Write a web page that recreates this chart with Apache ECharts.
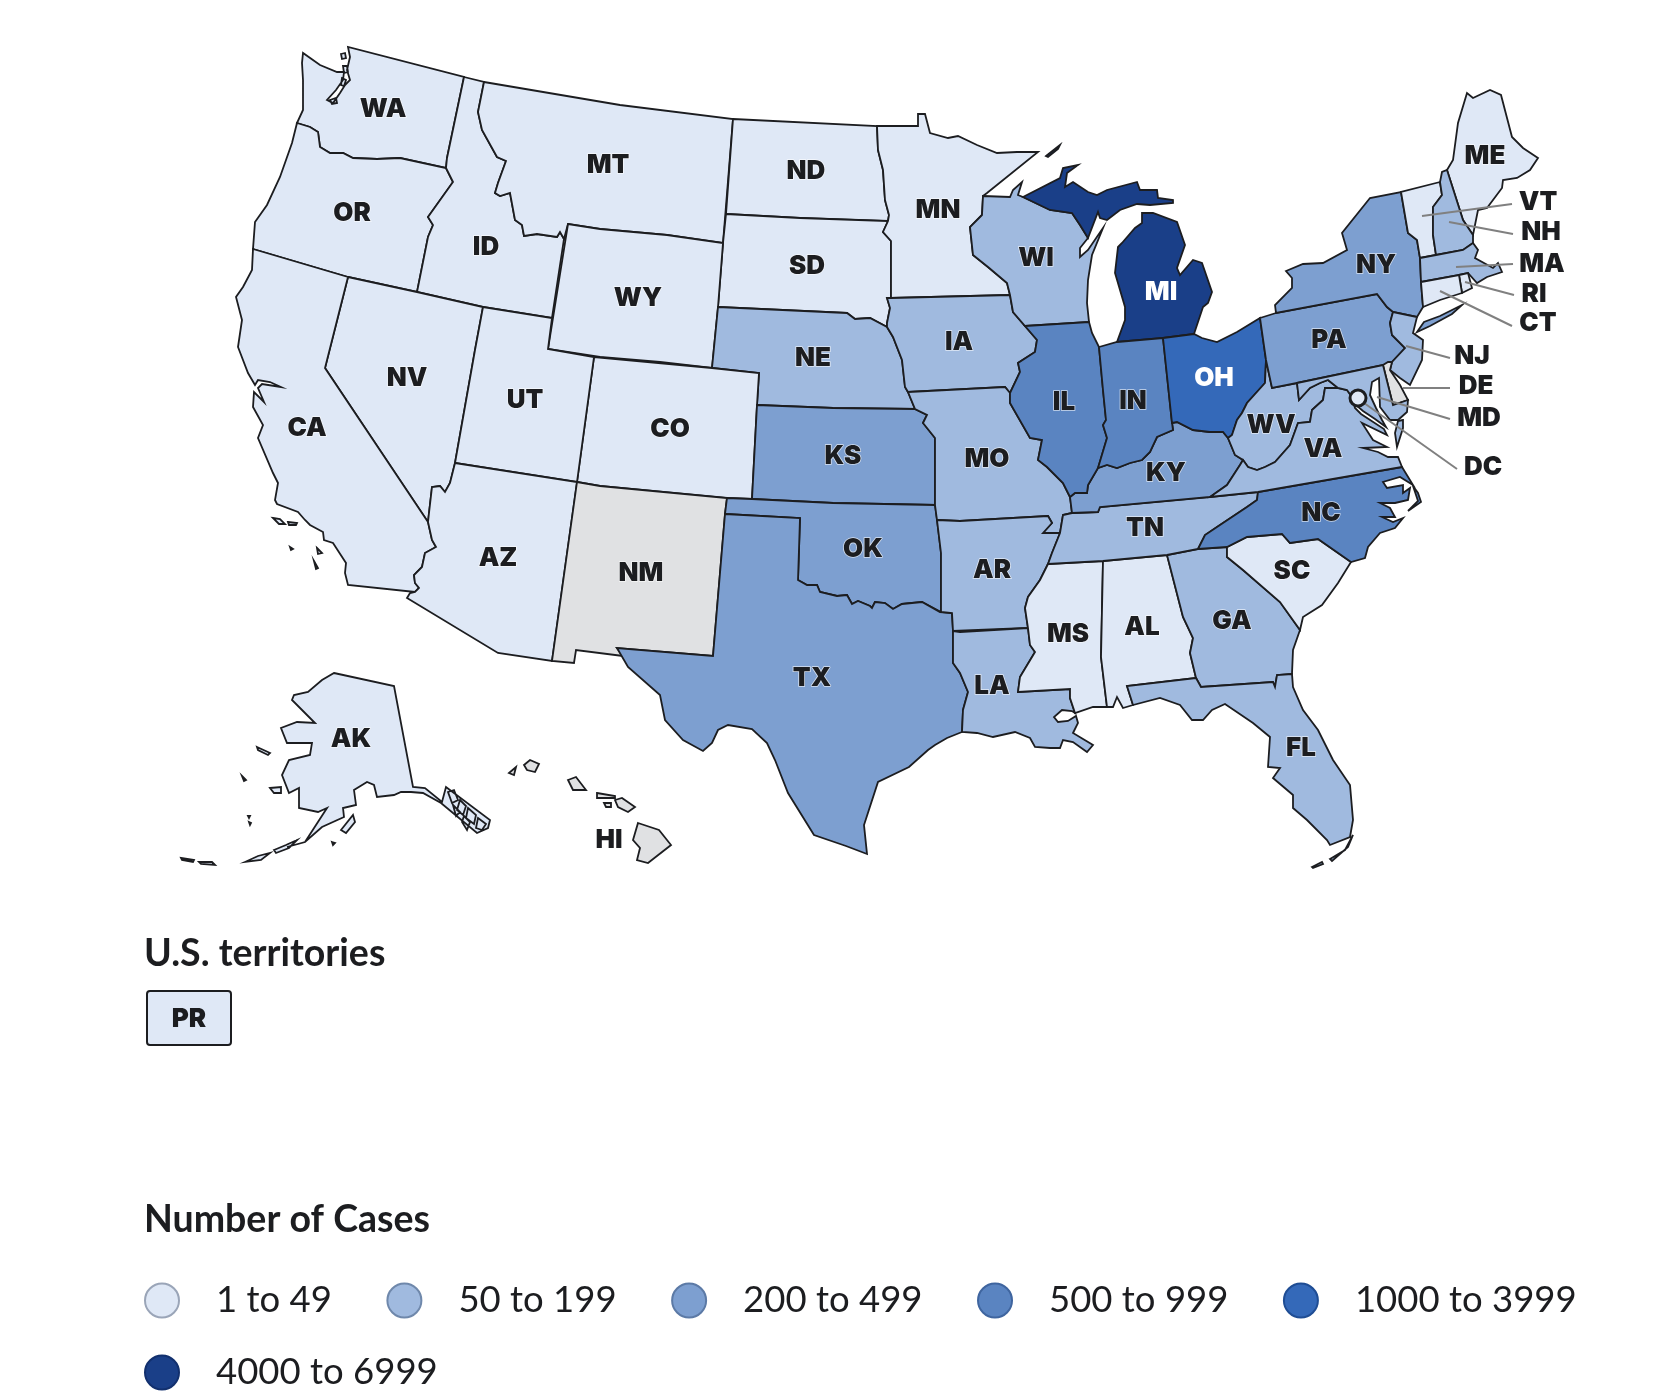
<!DOCTYPE html>
<html>
<head>
<meta charset="utf-8">
<style>html,body{margin:0;background:#fff}#chart{width:1658px;height:1400px}</style>
<script src="https://cdn.jsdelivr.net/npm/echarts@6/dist/echarts.min.js"></script>
</head>
<body>
<div id="chart"></div>
<script>
// case bins and the states that fall in each one
const binNames = ["1 to 49", "50 to 199", "200 to 499", "500 to 999", "1000 to 3999", "4000 to 6999"];
const binLow = [1, 50, 200, 500, 1000, 4000];
const binHigh = [49, 199, 499, 999, 3999, 6999];
const binColors = ["#dfe8f6", "#a0badf", "#7d9fd0", "#5a84c1", "#3469b9", "#1a3f88"];
const binBorders = ["#9aa5b8", "#6f88ab", "#5c7aa6", "#3f659f", "#1f4d94", "#12306e"];
const bin1 = ["WA", "OR", "CA", "ID", "MT", "NV", "UT", "AZ", "WY", "CO", "ND", "SD", "MN", "MS", "AL", "SC", "AK", "ME", "VT", "RI", "CT", "DC"];
const bin2 = ["NE", "IA", "WI", "MO", "AR", "LA", "TN", "GA", "FL", "WV", "VA", "MD", "NJ", "NH", "MA"];
const bin3 = ["KS", "OK", "TX", "KY", "NY", "PA"];
const bin4 = ["IL", "IN", "NC"];
const bin5 = ["OH"];
const bin6 = ["MI"];
const noData = ["NM", "HI", "DE"];
const binStates = [bin1, bin2, bin3, bin4, bin5, bin6];

// shared borders
const WA_OR = "297,123 310,127 318,132 320,147 330,153 343,153 353,158 377,159 400,158 446,168";
const OR_ID = "446,168 453,182 428,217 433,225 428,237 417,292";
const ID_MT = "484,82 478,112 482,130 497,157 506,161 498,183 495,193 500,196 510,193 515,220 522,225 524,236 537,234 557,237 560,232 564,239";
const MT_WY = "568,224 600,229 667,235 723,243";
const NV_AZ = "455,463 450,483 445,492 440,486 432,487 429,513 428,522";
const CA_AZ = "428,522 432,540 436,547 425,553 422,567 414,575 415,583 419,588 415,592";
const RED_RIVER = "798,580 807,585 817,585 820,592 837,596 847,595 852,604 858,601 870,606 872,608 875,602 885,603 893,609 902,604 922,602 940,612";
const NE_IA = "887,327 893,337 902,360 905,387 908,392";
const KS_MO = "915,409 927,415 923,423 935,438";
const SD_IA = "887,298 890,308 887,323 887,327";
const ND_MN = "877,126 878,150 883,170 885,200 889,215 888,221";
const SD_MN = "888,221 883,232 891,241 891,298";
const NE_SD = "718,307 847,313 855,319 870,318 887,327";
const MN_WI = "983,196 982,215 970,227 973,255 988,267 1007,283 1010,295";
const IA_WI = "1010,295 1013,312 1025,326";
const IA_IL = "1025,326 1037,340 1035,352 1018,363 1020,372 1010,393";
const MO_IL = "1010,393 1010,403 1030,438 1042,440 1038,460 1047,467 1063,483 1070,497";
const IL_KY = "1098,468 1088,485 1087,493 1075,493 1070,497";
const IL_IN = "1099,347 1103,390 1106,420 1103,425 1107,438 1098,468";
const IN_KY = "1172,423 1173,430 1157,437 1150,452 1142,460 1130,463 1117,468 1107,465 1098,468";
const OH_KY = "1228,438 1223,432 1210,432 1193,430 1177,422 1172,423";
const OH_WV = "1266,360 1265,383 1247,403 1242,413 1237,420 1232,435 1228,438";
const WV_VA = "1243,460 1248,467 1257,470 1265,467 1275,462 1290,445 1298,423 1310,422 1312,410 1323,400 1325,388 1338,388";
const WV_MD = "1297,383 1299,400 1310,388 1320,383 1328,380 1338,388";
const KY_VA = "1243,460 1240,465 1227,485 1210,497";
const TN_KY = "1072,513 1098,512 1100,507 1210,497";
const TN_NC = "1258,492 1257,500 1247,507 1235,515 1220,525 1205,535 1198,549";
const AR_MS = "1048,564 1040,580 1028,597 1025,608 1028,628";
const LA_MS = "1028,628 1030,645 1035,652 1020,677 1018,692 1070,689 1070,698 1075,713";
const AL_GA = "1167,555 1183,617 1193,638 1190,653 1196,678";
const GA_SC = "1227,547 1227,557 1243,570 1280,602 1300,630";
const FL_GA = "1196,678 1201,687 1273,682 1275,687 1277,675 1292,674";
const NC_SC = "1351,562 1318,539 1290,543 1282,534 1247,537 1227,547";
const LA_TX = "953,631 953,663 960,673 968,692 963,710 962,732";
const NH_VT = "1440,182 1442,195 1433,207 1433,235 1436,255";
const NY_VT = "1401,192 1408,233 1417,240 1420,258";
const NY_PA = "1276,313 1377,294 1387,307 1393,312";
const NJ_PA = "1393,312 1390,323 1392,335 1405,348 1392,362";
const rev = s => s.split(" ").reverse().join(" ");

// outline rings per state, first ring of each entry is the main land
const stateShapes = {
  WA: [`303,53 302,63 303,80 303,98 303,110 ${WA_OR} 447,158 464,77 348,47 350,57 347,70 350,80 345,85 340,93 333,103 327,100 336,90 343,80 344,72 337,72 320,65`,
    "341,54 345,53 346,58 342,59", "343,66 347,66 348,72 344,73", "342,78 346,80 344,86 341,85", "330,100 336,98 337,103 332,104"],
  OR: [`${WA_OR} ${OR_ID} 348,277 253,249 255,222 267,205 280,177 292,143`],
  CA: [`253,249 348,277 325,368 428,522 ${CA_AZ.slice(8)} 348,585 345,573 346,563 333,543 324,540 323,532 310,525 305,520 298,512 277,504 275,500 278,483 273,473 258,438 263,425 253,407 254,392 264,402 258,388 262,384 281,387 270,382 258,380 255,385 248,373 238,347 242,320 236,297 243,287 252,270`,
    "273,518 280,519 285,524 279,524", "288,522 297,523 296,525 289,525", "290,547 293,549 291,550", "317,548 322,553 318,554", "314,561 318,568 316,569"],
  ID: [`464,77 484,82 ${ID_MT.slice(7)} 552,318 483,307 ${rev(OR_ID)} 447,158`],
  MT: [`484,82 620,105 733,119 723,243 667,235 600,229 568,224 ${rev(ID_MT).replace(" 484,82", "")}`],
  WY: [`${MT_WY} 718,307 712,368 660,362 600,357 548,349`],
  NV: [`348,277 417,292 483,307 475,350 ${NV_AZ} 325,368`],
  UT: ["483,307 552,318 548,349 594,357 577,482 455,463 475,350"],
  AZ: [`455,463 577,482 552,661 498,653 407,598 410,593 ${rev(CA_AZ)} ${rev(NV_AZ).replace("428,522 ", "")}`],
  CO: ["594,357 712,368 759,373 757,405 752,499 727,498 600,486 577,482"],
  NM: ["577,482 600,486 727,498 725,514 713,656 617,648 623,656 576,650 574,663 552,661"],
  ND: [`733,119 877,126 ${ND_MN.slice(8)} 800,218 726,214`],
  SD: [`726,214 800,218 888,221 ${SD_MN.slice(8)} ${SD_IA} 870,318 855,319 847,313 718,307 723,243`],
  NE: [`${NE_SD} ${NE_IA.slice(8)} 915,409 833,408 757,405 759,373 712,368`],
  KS: [`757,405 833,408 915,409 ${KS_MO.slice(8)} 935,505 833,503 752,499`],
  OK: [`727,498 752,499 833,503 935,505 937,520 941,553 941,612 940,612 ${rev(RED_RIVER).replace("940,612 ", "")} 800,518 725,514`],
  TX: [`725,514 800,518 ${RED_RIVER} 952,613 953,631 953,663 960,673 968,692 963,710 962,732 947,738 935,745 928,750 909,767 878,782 864,825 867,854 846,846 814,835 788,793 775,760 767,743 752,729 728,725 718,730 712,743 703,751 683,740 665,720 660,695 628,667 617,648 713,656`],
  MN: [`877,126 918,126 918,114 925,114 930,133 948,138 958,136 977,145 997,153 1017,152 1038,152 987,193 ${MN_WI} 891,298 ${rev(SD_MN).replace(" 888,221", "")} 888,221 ${rev(ND_MN).replace("888,221 ", "")}`],
  IA: [`887,298 891,298 1010,295 ${IA_WI.slice(9)} ${IA_IL.slice(9)} 1005,387 908,392 ${rev(NE_IA).replace("908,392 ", "")} ${rev(SD_IA).replace("887,327 ", "")}`],
  MO: [`908,392 1005,387 ${MO_IL} 1072,513 1063,515 1060,533 1043,533 1052,523 1048,516 960,521 937,520 935,505 ${rev(KS_MO)}`],
  AR: ["937,520 960,521 1048,516 1052,523 1043,533 1060,533 1052,553 " + AR_MS + " 953,631 952,613 941,612 941,553"],
  LA: [`953,631 960,632 1028,628 ${LA_MS.slice(9)} 1072,711 1062,710 1054,717 1058,722 1068,721 1076,716 1078,723 1073,733 1093,745 1087,752 1073,742 1063,740 1060,748 1050,748 1035,747 1030,738 1015,732 993,737 977,733 962,732 ${rev(LA_TX).replace("962,732 ", "")}`],
  WI: [`983,196 1010,197 1013,190 1022,182 1018,195 1023,197 1050,210 1072,213 1080,225 1088,238 1080,248 1080,257 1088,250 1103,228 1092,255 1088,280 1087,303 1089,322 1025,326 ${rev(IA_WI).replace("1025,326 ", "")} ${rev(MN_WI).replace("1010,295 ", "")}`],
  MI: ["1023,197 1060,178 1063,168 1078,165 1067,173 1065,187 1073,182 1088,192 1097,195 1107,190 1137,182 1140,190 1157,190 1158,198 1173,200 1173,203 1150,205 1137,204 1120,210 1107,220 1100,218 1098,212 1088,238 1080,225 1072,213 1050,210",
    "1142,213 1153,213 1177,222 1185,245 1177,268 1180,275 1193,260 1202,263 1212,292 1208,303 1203,307 1194,334 1163,338 1117,342 1125,320 1125,307 1115,273 1118,247 1122,243 1135,228 1142,223",
    "1046,156 1060,145 1058,149 1048,157"],
  IL: [`1025,326 1089,322 1092,333 ${IL_IN} ${IL_KY.slice(9)} ${rev(MO_IL).replace("1070,497 ", "")} ${rev(IA_IL).replace("1010,393 ", "")}`],
  IN: [`1099,347 1117,342 1163,338 ${IN_KY} ${rev(IL_IN).replace("1098,468 ", "")}`],
  OH: [`1163,338 1194,334 1202,338 1217,342 1237,332 1260,318 ${OH_WV} ${OH_KY.slice(9)}`],
  KY: [`${IN_KY} ${IL_KY.slice(9)} 1072,513 1098,512 1100,507 1210,497 ${rev(KY_VA).replace("1210,497 ", "")} 1235,455 ${OH_KY}`],
  TN: [`1063,515 ${TN_KY} 1258,492 ${TN_NC.slice(9)} 1167,555 1103,561 1048,564 1052,553 1060,533`],
  MS: [`${AR_MS} ${LA_MS.slice(9)} 1093,707 1107,707 1101,657 1103,561`],
  AL: [`1103,561 1167,555 ${AL_GA.slice(9)} 1127,686 1133,705 1123,708 1117,697 1113,707 1107,707 1101,657`],
  GA: [`1167,555 1198,549 ${GA_SC} 1293,650 1292,674 ${rev(FL_GA).replace("1292,674 ", "")} ${rev(AL_GA).replace("1196,678 ", "")}`],
  SC: [`${rev(NC_SC)} 1338,583 1322,605 1303,617 1300,630 1280,602 1243,570 1227,557`],
  NC: [`1258,492 1402,467 1413,485 1400,477 1383,482 1387,488 1403,485 1403,493 1410,488 1408,500 1395,503 1380,503 1390,508 1395,517 1382,517 1393,522 1403,518 1395,528 1380,533 1368,547 1365,558 ${NC_SC} 1198,549 ${rev(TN_NC).replace("1198,549 ", "")}`,
    "1413,486 1418,493 1421,502 1408,511 1418,501"],
  FL: [`${FL_GA} 1293,687 1303,710 1318,730 1333,760 1350,785 1353,820 1350,837 1330,845 1327,840 1307,820 1293,808 1293,795 1273,778 1280,768 1268,767 1270,737 1253,723 1225,704 1212,710 1203,720 1192,720 1180,705 1160,698 1133,705 1127,686`,
    "1312,867 1322,862 1323,864 1313,868", "1330,859 1345,850 1353,835 1348,847 1332,861"],
  WV: [`1266,360 1272,388 ${WV_MD} ${rev(WV_VA).replace("1338,388 ", "")} 1235,455 1228,438 ${rev(OH_WV).replace("1228,438 ", "")}`],
  VA: [`${WV_VA} 1347,390 1352,397 1355,408 1361,414 1384,429 1387,435 1362,423 1373,440 1387,447 1363,448 1378,452 1388,457 1398,457 1402,467 1258,492 1210,497 ${rev(KY_VA).replace("1210,497 ", "").replace(" 1243,460", "")}`,
    "1403,420 1398,421 1395,433 1397,447 1403,428"],
  MD: [`1297,383 1383,365 1393,405 1408,400 1407,412 1398,420 1390,420 1380,407 1379,378 1372,382 1370,395 1376,408 1382,420 1386,427 1375,419 1363,411 1357,406 1352,397 1347,390 ${rev(WV_MD).replace("1297,383", "").trim()}`],
  DC: ["1354,395 1361,395 1361,401 1354,401"],
  DE: ["1383,365 1388,362 1392,362 1390,370 1400,385 1408,400 1393,405"],
  PA: [`1260,318 ${NY_PA} ${NJ_PA.slice(9)} 1383,365 1297,383 1272,388 1266,360`],
  NJ: [`1393,312 1417,317 1413,333 1423,340 1422,360 1410,385 1400,378 1390,370 1392,362 ${rev(NJ_PA).replace("1392,362 ", "")}`],
  NY: [`1276,313 1275,305 1292,288 1292,278 1286,271 1303,264 1323,263 1347,250 1342,233 1370,198 ${NY_VT} 1421,282 1423,307 1417,317 ${rev(NY_PA).replace(" 1276,313", "")}`,
    "1417,332 1424,322 1440,316 1462,305 1452,314 1430,326"],
  VT: [`${NY_VT} 1436,255 ${rev(NH_VT).replace("1436,255 ", "")}`],
  NH: [`${NH_VT} 1463,250 1473,243 1473,235 1463,220 1447,170 1442,172`],
  ME: ["1447,170 1453,160 1458,123 1467,93 1473,98 1490,90 1501,95 1512,137 1523,148 1538,158 1530,170 1517,178 1503,180 1502,188 1487,208 1478,210 1473,235 1463,220"],
  MA: ["1420,258 1436,255 1463,250 1473,243 1478,250 1475,258 1493,268 1498,263 1502,272 1487,277 1477,283 1468,273 1459,275 1421,282"],
  CT: ["1421,282 1459,275 1462,293 1440,300 1423,307"],
  RI: ["1459,275 1468,273 1472,288 1462,293"],
  AK: ["334,673 394,686 413,787 425,788 442,802 446,787 490,820 488,828 477,833 441,803 423,793 411,792 401,792 394,795 377,797 374,785 367,782 354,790 356,805 343,808 344,817 322,827 305,842 287,847 305,842 327,808 318,812 299,808 299,788 289,793 282,775 289,760 310,755 312,743 287,743 281,728 297,722 315,723 305,713 292,700 294,695 308,692 322,680",
    "341,830 353,815 355,822 346,833", "270,788 281,787 281,793 274,793", "257,747 270,753 268,755 258,750",
    "181,858 194,860 193,862 182,860", "199,862 212,862 215,865 201,864", "245,862 258,856 270,853 261,860", "274,850 286,845 297,840 289,848 276,853",
    "242,776 246,780 244,781", "248,816 250,816 249,818", "249,822 251,823 250,825", "332,842 335,843 333,845",
    "448,792 454,790 458,800 452,803", "460,800 466,806 463,815 457,810", "468,808 476,815 474,824 466,818", "478,818 486,824 482,830 476,828", "453,805 460,812 456,816", "464,816 470,822 467,830 462,822"],
  HI: ["524,765 530,760 539,764 535,772 527,770", "509,773 516,767 514,775", "568,780 576,777 586,790 573,790", "597,793 615,796 615,798 597,798", "604,803 611,803 611,807 606,807", "615,800 622,798 635,807 628,812 618,807", "638,823 659,830 671,845 648,863 637,860 640,848 633,840"],
};

// where each state's abbreviation sits
const labelSpots = {
  WA: [383, 108], OR: [352, 212], ID: [486, 246], MT: [608, 164], ND: [806, 170], SD: [807, 265], WY: [638, 297], NE: [813, 357], CO: [670, 428],
  MN: [938, 209], IA: [959, 341], NV: [407, 377], UT: [525, 399], CA: [307, 427], AZ: [498, 557], NM: [641, 572], KS: [843, 455], OK: [863, 548],
  TX: [812, 677], MO: [987, 458], AR: [992, 569], LA: [992, 685], MS: [1068, 633], AL: [1142, 626], GA: [1232, 620], SC: [1292, 570], TN: [1145, 527],
  KY: [1166, 472], NC: [1321, 512], FL: [1301, 747], WI: [1036, 257], MI: [1161, 291], IL: [1064, 401], IN: [1133, 400], OH: [1214, 377], WV: [1271, 424],
  VA: [1323, 448], PA: [1329, 339], NY: [1376, 264], ME: [1485, 155], VT: [1538, 201], NH: [1541, 231], MA: [1542, 263], RI: [1534, 293], CT: [1538, 322],
  NJ: [1472, 355], DE: [1476, 385], MD: [1479, 417], DC: [1483, 466], AK: [351, 738], HI: [609, 839],
};

// leader lines from small states out to their labels
const leaderLines = [
  [[1422, 216], [1512, 204]], [[1449, 222], [1513, 234]], [[1456, 267], [1513, 264]], [[1465, 282], [1514, 295]], [[1440, 291], [1512, 326]],
  [[1406, 346], [1450, 358]], [[1403, 388], [1450, 388]], [[1377, 397], [1450, 419]], [[1357, 398], [1457, 469]],
];
const dcPoint = [1358, 398];

const rings = s => s.trim().split(/\s+/).map(p => p.split(",").map(Number));
const closed = r => (r.push(r[0]), r);
const usGeo = {
  type: "FeatureCollection",
  features: Object.keys(labelSpots).map(name => ({
    type: "Feature",
    properties: { name: name, cp: labelSpots[name] },
    geometry: { type: "MultiPolygon", coordinates: stateShapes[name].map(s => [closed(rings(s))]) },
  })),
};
echarts.registerMap("us", usGeo);

const textColor = "#1c1d20";
const labelFont = "Inter";
const bodyFont = "Lato";
const stateData = [];
binStates.forEach((states, i) => {
  states.forEach(name => stateData.push({ name: name, value: binLow[i] }));
});
noData.forEach(name => stateData.push({ name: name, value: 0 }));

const legendItem = i => ({ name: binNames[i], icon: "circle", itemStyle: { color: binColors[i], borderColor: binBorders[i], borderWidth: 2, opacity: 1 } });
const legendBase = { left: 144, padding: 0, itemWidth: 34, itemHeight: 34, itemGap: 54.5, selectedMode: false, textStyle: { fontFamily: bodyFont, fontSize: 36.5, color: textColor, padding: [0, 0, 0, 32] } };

const option = {
  animation: false,
  backgroundColor: "#fff",
  title: [
    { text: "U.S. territories", left: 144, top: 935, padding: 0, textStyle: { fontFamily: bodyFont, fontSize: 37.5, fontWeight: 700, color: textColor } },
    { text: "Number of Cases", left: 144, top: 1201, padding: 0, textStyle: { fontFamily: bodyFont, fontSize: 37.5, fontWeight: 700, color: textColor } },
  ],
  legend: [
    Object.assign({}, legendBase, { top: 1282, data: [0, 1, 2, 3, 4].map(legendItem) }),
    Object.assign({}, legendBase, { top: 1354, data: [legendItem(5)] }),
  ],
  visualMap: {
    show: false,
    seriesIndex: 0,
    type: "piecewise",
    pieces: [{ value: 0, color: "#e0e1e3" }].concat(binNames.map((n, i) => ({ gte: binLow[i], lte: binHigh[i], color: binColors[i] }))),
  },
  geo: {
    map: "us",
    silent: true,
    projection: { project: p => p, unproject: p => p },
    boundingCoords: [[0, 0], [1658, 1400]],
    layoutCenter: [829, 700],
    layoutSize: 1658,
    itemStyle: { areaColor: "#e0e1e3", borderColor: "#1c1d20", borderWidth: 1.8 },
    label: { show: true, offset: [0, 1], fontFamily: labelFont, fontWeight: 900, fontSize: 26, color: textColor, textBorderColor: "rgba(255,255,255,.7)", textBorderWidth: 1.5 },
    // the two darkest bins carry white text
    regions: bin5.concat(bin6).map(name => ({ name: name, label: { color: "#fff", textBorderWidth: 0 } })),
  },
  graphic: [
    { type: "rect", shape: { x: 147, y: 991, width: 84, height: 54, r: 3 }, style: { fill: binColors[0], stroke: "#1c1d20", lineWidth: 2 } },
    { type: "text", x: 189, y: 1019, style: { text: "PR", fontFamily: labelFont, fontWeight: 900, fontSize: 26, fill: textColor, align: "center", verticalAlign: "middle" } },
  ],
  series: [
    {
      type: "map",
      geoIndex: 0,
      data: stateData,
    },
    {
      type: "lines",
      coordinateSystem: "geo",
      silent: true,
      zlevel: 1,
      lineStyle: { color: "#808080", width: 2, opacity: 1, curveness: 0 },
      data: leaderLines.map(c => ({ coords: c })),
    },
    {
      type: "scatter",
      coordinateSystem: "geo",
      silent: true,
      zlevel: 1,
      symbolSize: 16,
      itemStyle: { color: binColors[0], borderColor: "#1c1d20", borderWidth: 3, opacity: 1 },
      data: [dcPoint],
    },
  ].concat(binNames.map((n, i) => ({ type: "scatter", coordinateSystem: "geo", name: n, data: [], itemStyle: { color: binColors[i] } }))),
};

const chart = echarts.init(document.getElementById("chart"));
chart.setOption(option);
</script>
</body>
</html>
